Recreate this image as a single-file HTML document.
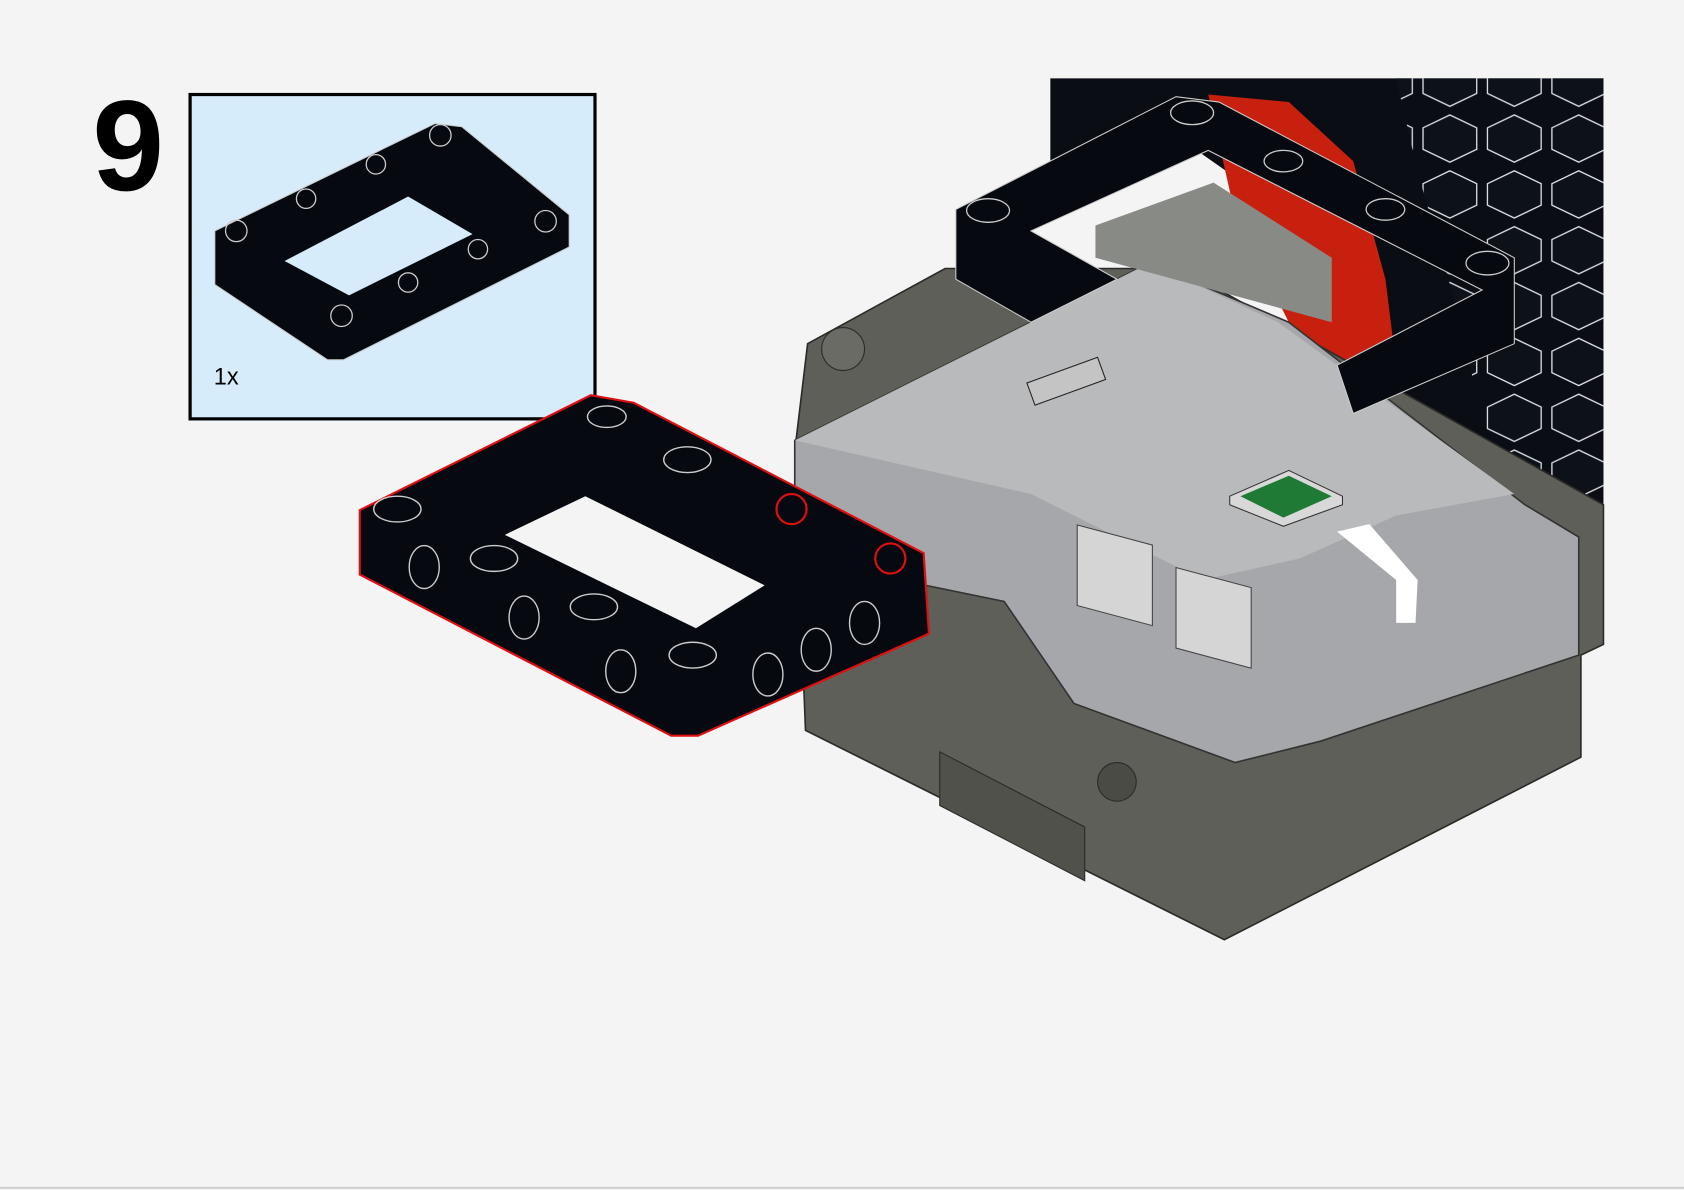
<!DOCTYPE html>
<html><head><meta charset="utf-8"><style>
html,body{margin:0;padding:0;background:#f4f4f4;}
svg{display:block;}
</style></head><body>
<svg width="1684" height="1190" viewBox="0 0 1568 1108" preserveAspectRatio="none" xmlns="http://www.w3.org/2000/svg">
<defs>
<pattern id="hx" width="60" height="52" patternUnits="userSpaceOnUse">
<path d="M5,15 l25,-12 l25,12 l0,20 l-25,12 l-25,-12z" fill="#0d1219" stroke="#dfe4ea" stroke-width="1.2"/>
</pattern>
</defs>
<rect width="1568" height="1108" fill="#f4f4f4"/>
<line x1="0" y1="1106" x2="1568" y2="1106" stroke="#cfcfcf" stroke-width="2"/>
<text x="86" y="177" font-family="Liberation Sans, sans-serif" font-weight="bold" font-size="120" fill="#000">9</text>
<!-- tire -->
<path d="M978,73 L1493,73 L1493,470 L1440,490 L1380,470 L1300,380 L1200,200 L1100,130 L978,150 Z" fill="#0a0e14"/>
<path d="M1300,73 L1493,73 L1493,470 L1440,485 L1390,440 L1360,300 L1320,160 Z" fill="url(#hx)"/>
<!-- red hub -->
<path d="M1125,88 L1200,95 L1260,150 L1290,260 L1300,340 L1280,390 L1240,390 L1200,300 L1150,200 Z" fill="#c8200f"/>
<!-- dark body -->
<path d="M752,320 L880,250 L1100,250 L1493,470 L1493,600 L1472,610 L1472,705 L1140,875 L750,680 L740,420 Z" fill="#5e5f58" stroke="#2a2a28" stroke-width="1.5"/>
<path d="M875,700 L1010,770 L1010,820 L875,750 Z" fill="#50514b" stroke="#2a2a28"/>
<circle cx="785" cy="325" r="20" fill="#6a6b64" stroke="#2a2a28"/>
<circle cx="1040" cy="728" r="18" fill="#4a4b45" stroke="#2a2a28"/>
<!-- light gray top -->
<path d="M740,410 L1070,245 L1200,300 L1420,470 L1470,500 L1470,610 L1230,690 L1150,710 L1000,655 L935,560 L740,520 Z" fill="#a5a7aa" stroke="#333" stroke-width="1.5"/>
<path d="M740,410 L1070,245 L1190,300 L1410,460 L1300,480 L1210,520 L1120,540 L960,460 Z" fill="#b8babc"/>
<!-- back frame -->
<path d="M890,195 L1095,90 L1135,95 L1410,240 L1410,320 L1260,385 L1245,340 L1380,270 L1125,140 L960,215 L1040,260 L960,300 L890,260 Z" fill="#060a10" stroke="#ccc" stroke-width="1"/>
<g fill="none" stroke="#ccc" stroke-width="1.2">
<ellipse cx="920" cy="196" rx="20" ry="11"/><ellipse cx="1110" cy="105" rx="20" ry="11"/><ellipse cx="1385" cy="245" rx="20" ry="11"/><ellipse cx="1195" cy="150" rx="18" ry="10"/><ellipse cx="1290" cy="195" rx="18" ry="10"/>
</g>
<!-- gray motor -->
<path d="M1020,210 L1130,170 L1240,240 L1240,300 L1130,270 L1020,240 Z" fill="#888a86"/>
<!-- green button -->
<path d="M1145,462 L1200,438 L1250,462 L1250,470 L1195,490 L1145,470 Z" fill="#d8d8d8" stroke="#333"/>
<path d="M1155,462 L1200,443 L1240,462 L1195,482 Z" fill="#1f7a35"/>
<path d="M1245,495 L1275,488 L1320,540 L1318,580 L1300,580 L1300,540 Z" fill="#fff"/>
<!-- ports -->
<rect x="1003" y="490" width="70" height="75" fill="#d5d5d5" stroke="#444" transform="skewY(15) translate(0,-270)"/>
<rect x="1095" y="530" width="70" height="75" fill="#d5d5d5" stroke="#444" transform="skewY(15) translate(0,-295)"/>
<rect x="958" y="345" width="70" height="22" fill="#c4c4c4" stroke="#222" transform="rotate(-20 990 356)"/>
<!-- callout -->
<rect x="177" y="88" width="377" height="302" fill="#d6ecfb" stroke="#000" stroke-width="3"/>
<text x="199" y="358" font-family="Liberation Sans, sans-serif" font-size="22" fill="#000">1x</text>
<path d="M200,215 L405,115 L430,118 L530,200 L530,230 L320,335 L305,335 L200,265 Z" fill="#060a10" stroke="#ccc" stroke-width="1"/>
<path d="M265,243 L380,183 L440,218 L325,275 Z" fill="#d6ecfb"/>
<g fill="none" stroke="#ccc" stroke-width="1.2">
<circle cx="220" cy="215" r="10"/><circle cx="410" cy="126" r="10"/><circle cx="318" cy="294" r="10"/><circle cx="508" cy="206" r="10"/>
<circle cx="285" cy="185" r="9"/><circle cx="350" cy="153" r="9"/><circle cx="380" cy="263" r="9"/><circle cx="445" cy="232" r="9"/>
</g>
<!-- front frame -->
<path d="M335,475 L550,368 L590,375 L860,515 L865,590 L650,685 L625,685 L335,535 Z" fill="#060a10" stroke="#e01010" stroke-width="2"/>
<path d="M470,498 L545,462 L712,545 L648,585 Z" fill="#f4f4f4"/>
<g fill="none" stroke="#ccc" stroke-width="1.3">
<ellipse cx="370" cy="474" rx="22" ry="12"/><ellipse cx="460" cy="520" rx="22" ry="12"/><ellipse cx="553" cy="565" rx="22" ry="12"/><ellipse cx="645" cy="610" rx="22" ry="12"/>
<ellipse cx="640" cy="428" rx="22" ry="12"/><ellipse cx="565" cy="388" rx="18" ry="10"/>
<ellipse cx="395" cy="528" rx="14" ry="20"/><ellipse cx="488" cy="575" rx="14" ry="20"/><ellipse cx="578" cy="625" rx="14" ry="20"/>
<ellipse cx="715" cy="628" rx="14" ry="20"/><ellipse cx="760" cy="605" rx="14" ry="20"/><ellipse cx="805" cy="580" rx="14" ry="20"/>
</g>
<circle cx="737" cy="474" r="14" fill="none" stroke="#e01010" stroke-width="2"/>
<circle cx="829" cy="520" r="14" fill="none" stroke="#e01010" stroke-width="2"/>
</svg>
</body></html>
